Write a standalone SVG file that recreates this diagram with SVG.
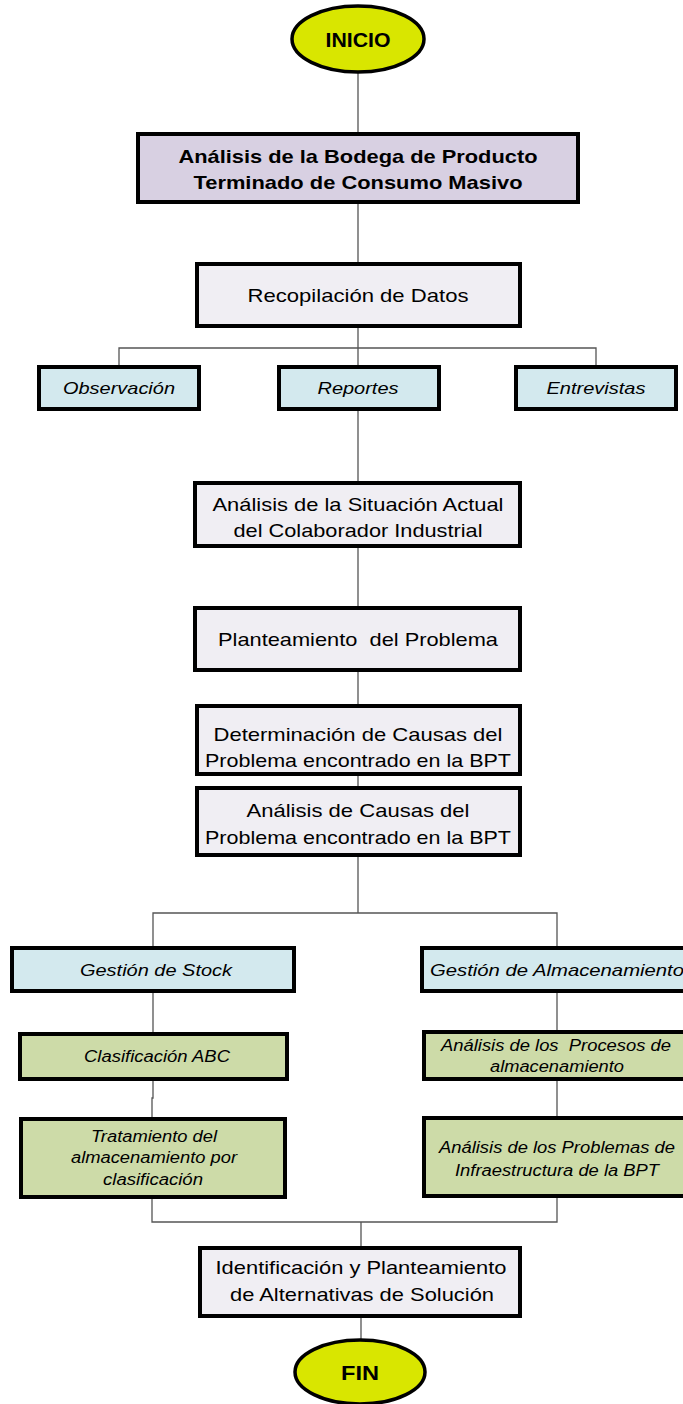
<svg xmlns="http://www.w3.org/2000/svg" width="683" height="1404" viewBox="0 0 683 1404">
<style>
.box{stroke:#000;stroke-width:4}
.g{fill:#f0eef3}
.p{fill:#d8d0e2}
.b{fill:#d3e9ee}
.gr{fill:#cddba8}
.el{fill:#d9e600;stroke:#000;stroke-width:3.5}
.t{font-family:"Liberation Sans",Arial,sans-serif;fill:#000;text-anchor:middle;white-space:pre}
.n{font-size:19px}
.bd{font-size:19px;font-weight:bold}
.i{font-size:17px;font-style:italic}
.s{font-size:16px;font-style:italic}
.c{fill:none;stroke:#555;stroke-width:1.3}
</style>
<rect width="683" height="1404" fill="#fff"/>
<g id="connectors">
<path class="c" d="M358 73V133M358 203V263M358 327V410M358 410V482M358 547V607M358 671V705M358 775V787M358 856V913"/>
<path class="c" d="M119 366V348H596V366"/>
<path class="c" d="M153 947V913H557V947"/>
<path class="c" d="M153 992V1033M153 1079V1098H152V1118M557 992V1033M557 1080V1118"/>
<path class="c" d="M152 1197V1222H557V1197M361 1222V1247M361 1317V1339"/>
</g>
<g id="inicio"><ellipse class="el" cx="358" cy="39" rx="66" ry="33"/><text class="t" x="358" y="47" font-size="21" font-weight="bold" textLength="65" lengthAdjust="spacingAndGlyphs">INICIO</text></g>
<g id="analisis-bodega"><rect class="box p" x="138" y="134" width="440" height="68"/>
<text class="t bd" x="358" y="163" textLength="359" lengthAdjust="spacingAndGlyphs">Análisis de la Bodega de Producto</text>
<text class="t bd" x="358" y="189" textLength="329" lengthAdjust="spacingAndGlyphs">Terminado de Consumo Masivo</text></g>
<g id="recopilacion"><rect class="box g" x="197" y="264" width="323" height="62"/>
<text class="t n" x="358" y="302" textLength="221" lengthAdjust="spacingAndGlyphs">Recopilación de Datos</text></g>
<g id="observacion"><rect class="box b" x="39" y="367" width="160" height="42"/>
<text class="t i" x="119" y="394" textLength="112" lengthAdjust="spacingAndGlyphs">Observación</text></g>
<g id="reportes"><rect class="box b" x="279" y="367" width="160" height="42"/>
<text class="t i" x="358" y="394" textLength="81" lengthAdjust="spacingAndGlyphs">Reportes</text></g>
<g id="entrevistas"><rect class="box b" x="516" y="367" width="160" height="42"/>
<text class="t i" x="596" y="394" textLength="99" lengthAdjust="spacingAndGlyphs">Entrevistas</text></g>
<g id="situacion"><rect class="box g" x="195" y="483" width="325" height="63"/>
<text class="t n" x="358" y="511" textLength="291" lengthAdjust="spacingAndGlyphs">Análisis de la Situación Actual</text>
<text class="t n" x="358" y="537" textLength="249" lengthAdjust="spacingAndGlyphs">del Colaborador Industrial</text></g>
<g id="planteamiento"><rect class="box g" x="195" y="608" width="325" height="62"/>
<text class="t n" x="358" y="646" textLength="280" lengthAdjust="spacingAndGlyphs">Planteamiento  del Problema</text></g>
<g id="determinacion"><rect class="box g" x="197" y="706" width="323" height="68"/>
<text class="t n" x="358" y="741" textLength="289" lengthAdjust="spacingAndGlyphs">Determinación de Causas del</text>
<text class="t n" x="358" y="767" textLength="306" lengthAdjust="spacingAndGlyphs">Problema encontrado en la BPT</text></g>
<g id="causas"><rect class="box g" x="197" y="788" width="323" height="67"/>
<text class="t n" x="358" y="817" textLength="223" lengthAdjust="spacingAndGlyphs">Análisis de Causas del</text>
<text class="t n" x="358" y="844" textLength="306" lengthAdjust="spacingAndGlyphs">Problema encontrado en la BPT</text></g>
<g id="stock"><rect class="box b" x="12" y="948" width="282" height="43"/>
<text class="t i" x="156" y="976" textLength="152" lengthAdjust="spacingAndGlyphs">Gestión de Stock</text></g>
<g id="almacenamiento"><rect class="box b" x="422" y="948" width="270" height="43"/>
<text class="t i" x="557" y="976" textLength="254" lengthAdjust="spacingAndGlyphs">Gestión de Almacenamiento</text></g>
<g id="abc"><rect class="box gr" x="20" y="1034" width="267" height="45"/>
<text class="t s" x="157" y="1062" textLength="146" lengthAdjust="spacingAndGlyphs">Clasificación ABC</text></g>
<g id="tratamiento"><rect class="box gr" x="21" y="1119" width="264" height="78"/>
<text class="t s" x="154" y="1142" textLength="126" lengthAdjust="spacingAndGlyphs">Tratamiento del</text>
<text class="t s" x="154" y="1163" textLength="166" lengthAdjust="spacingAndGlyphs">almacenamiento por</text>
<text class="t s" x="153" y="1185" textLength="100" lengthAdjust="spacingAndGlyphs">clasificación</text></g>
<g id="procesos"><rect class="box gr" x="424" y="1032" width="266" height="47"/>
<text class="t s" x="556" y="1051" textLength="230" lengthAdjust="spacingAndGlyphs">Análisis de los  Procesos de</text>
<text class="t s" x="557" y="1072" textLength="134" lengthAdjust="spacingAndGlyphs">almacenamiento</text></g>
<g id="infraestructura"><rect class="box gr" x="424" y="1118" width="266" height="78"/>
<text class="t s" x="557" y="1153" textLength="236" lengthAdjust="spacingAndGlyphs">Análisis de los Problemas de</text>
<text class="t s" x="557" y="1176" textLength="204" lengthAdjust="spacingAndGlyphs">Infraestructura de la BPT</text></g>
<g id="identificacion"><rect class="box g" x="200" y="1248" width="320" height="68"/>
<text class="t n" x="361" y="1274" textLength="291" lengthAdjust="spacingAndGlyphs">Identificación y Planteamiento</text>
<text class="t n" x="362" y="1301" textLength="264" lengthAdjust="spacingAndGlyphs">de Alternativas de Solución</text></g>
<g id="fin"><ellipse class="el" cx="360" cy="1372" rx="65" ry="32"/><text class="t" x="360" y="1380" font-size="21" font-weight="bold" textLength="38" lengthAdjust="spacingAndGlyphs">FIN</text></g>
</svg>
